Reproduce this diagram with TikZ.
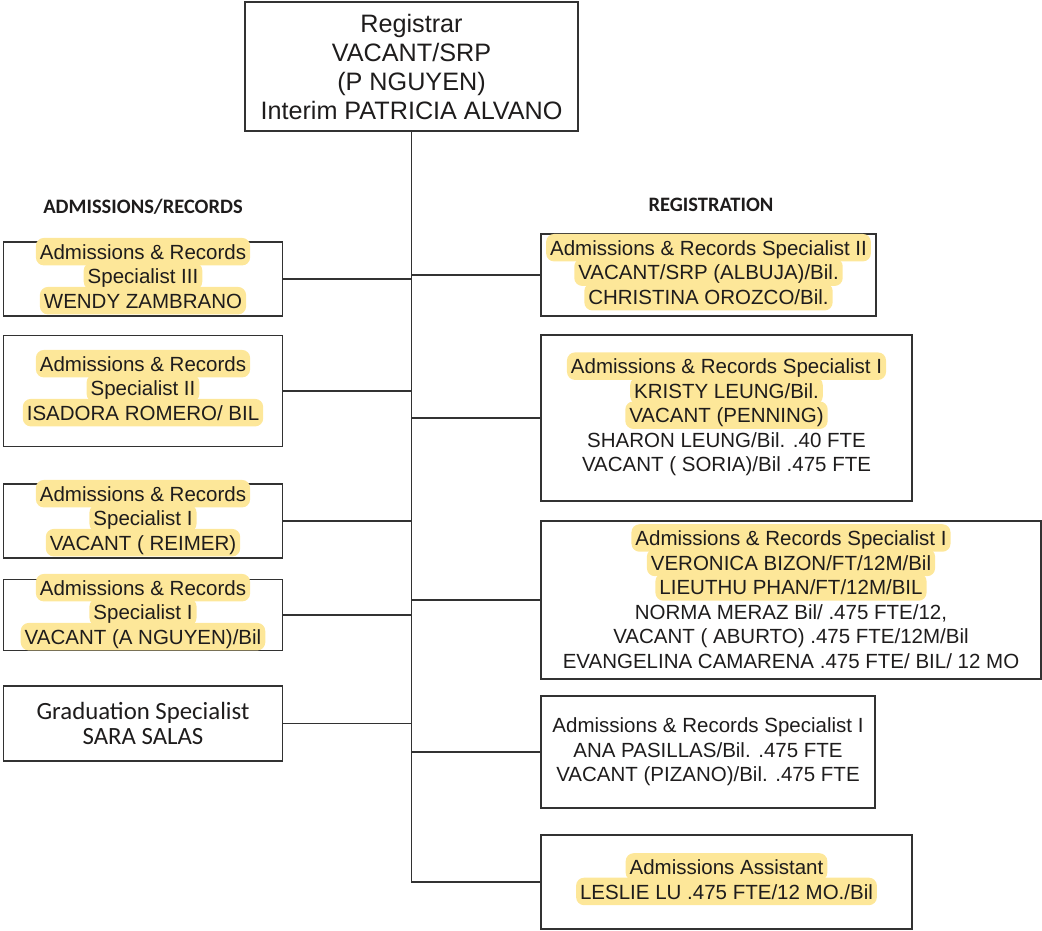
\documentclass[tikz,border=0pt]{standalone}
\usepackage{fontspec}
\setmainfont{Liberation Sans}
\newfontfamily\calibri{Carlito}

\definecolor{hlyellow}{RGB}{253,231,153}
\definecolor{ink}{RGB}{30,28,28}
\definecolor{frame}{RGB}{50,50,50}

\tikzset{
  posbox/.style={draw=frame, line width=1.4pt, inner sep=0pt, align=center,
    text=ink, font=\fontsize{20.5}{24.5}\selectfont},
  hlbox/.style={fill=hlyellow, draw=none, rounded corners=8pt, inner xsep=4pt,
    inner ysep=0pt, text height=21.5pt, text depth=6pt,
    minimum width=0pt, minimum height=0pt},
  link/.style={draw=frame, line width=1.4pt},
  head/.style={font=\calibri\bfseries\fontsize{20.5}{24}\selectfont, text=ink}
}

% highlighted line of text
\newcommand{\hl}[1]{\smash{\tikz[baseline=(h.base)]\node[hlbox](h){#1};}\vphantom{Ag}}

\begin{document}
\begin{tikzpicture}[x=1pt,y=-1pt]
\useasboundingbox (0,0) rectangle (1042,931);

% Registrar
\node[posbox, font=\fontsize{25.2}{29}\selectfont, minimum width=333, minimum height=129]
  (reg) at (411.5,66.5) {Registrar\\VACANT/SRP\\(P NGUYEN)\\Interim PATRICIA ALVANO};

% Headings
\node[head] (admhead) at (143,207) {ADMISSIONS/RECORDS};
\node[head] (reghead) at (711,205) {REGISTRATION};

% Admissions/Records
\node[posbox, minimum width=279, minimum height=74] (ar3) at (143,279)
  {\hl{Admissions \& Records}\\\hl{Specialist III}\\\hl{WENDY ZAMBRANO}};
\node[posbox, minimum width=279, minimum height=111] (ar2) at (143,391)
  {\hl{Admissions \& Records}\\\hl{Specialist II}\\\hl{ISADORA ROMERO/ BIL}};
\node[posbox, minimum width=279, minimum height=74] (ar1a) at (143,521)
  {\hl{Admissions \& Records}\\\hl{Specialist I}\\\hl{VACANT ( REIMER)}};
\node[posbox, minimum width=279, minimum height=71] (ar1b) at (143,615)
  {\hl{Admissions \& Records}\\\hl{Specialist I}\\\hl{VACANT (A NGUYEN)/Bil}};
\node[posbox, font=\calibri\fontsize{24.8}{25}\selectfont, minimum width=279, minimum height=75]
  (grad) at (143,723.5) {Graduation Specialist\\SARA SALAS};

% Registration
\node[posbox, minimum width=335, minimum height=82] (rs2) at (708.5,275)
  {\hl{Admissions \& Records Specialist II}\\\hl{VACANT/SRP (ALBUJA)/Bil.}\\\hl{CHRISTINA OROZCO/Bil.}};
\node[posbox, minimum width=371, minimum height=166] (rs1a) at (726.5,418)
  {\hl{Admissions \& Records Specialist I}\\\hl{KRISTY LEUNG/Bil.}\\\hl{VACANT (PENNING)}\\
   SHARON LEUNG/Bil. .40 FTE\\VACANT ( SORIA)/Bil .475 FTE};
\node[posbox, minimum width=500, minimum height=158] (rs1b) at (791,600)
  {\hl{Admissions \& Records Specialist I}\\\hl{VERONICA BIZON/FT/12M/Bil}\\\hl{LIEUTHU PHAN/FT/12M/BIL}\\
   NORMA MERAZ Bil/ .475 FTE/12,\\VACANT ( ABURTO) .475 FTE/12M/Bil\\EVANGELINA CAMARENA .475 FTE/ BIL/ 12 MO};
\node[posbox, minimum width=334, minimum height=112] (rs1c) at (708,752)
  {Admissions \& Records Specialist I\\ANA PASILLAS/Bil. .475 FTE\\VACANT (PIZANO)/Bil. .475 FTE};
\node[posbox, minimum width=371, minimum height=94] (asst) at (726.5,882)
  {\hl{Admissions Assistant}\\\hl{LESLIE LU .475 FTE/12 MO./Bil}};

% Lines
\coordinate (trunkend) at (reg.south |- asst.west);
\draw[link] (reg.south) -- (trunkend) -- (asst.west);
\foreach \n in {ar3,ar2,ar1a,ar1b,grad}
  \draw[link] (\n.east) -- (\n.east -| reg.south);
\foreach \n in {rs2,rs1a,rs1b,rs1c}
  \draw[link] (reg.south |- \n.west) -- (\n.west);

\end{tikzpicture}
\end{document}
